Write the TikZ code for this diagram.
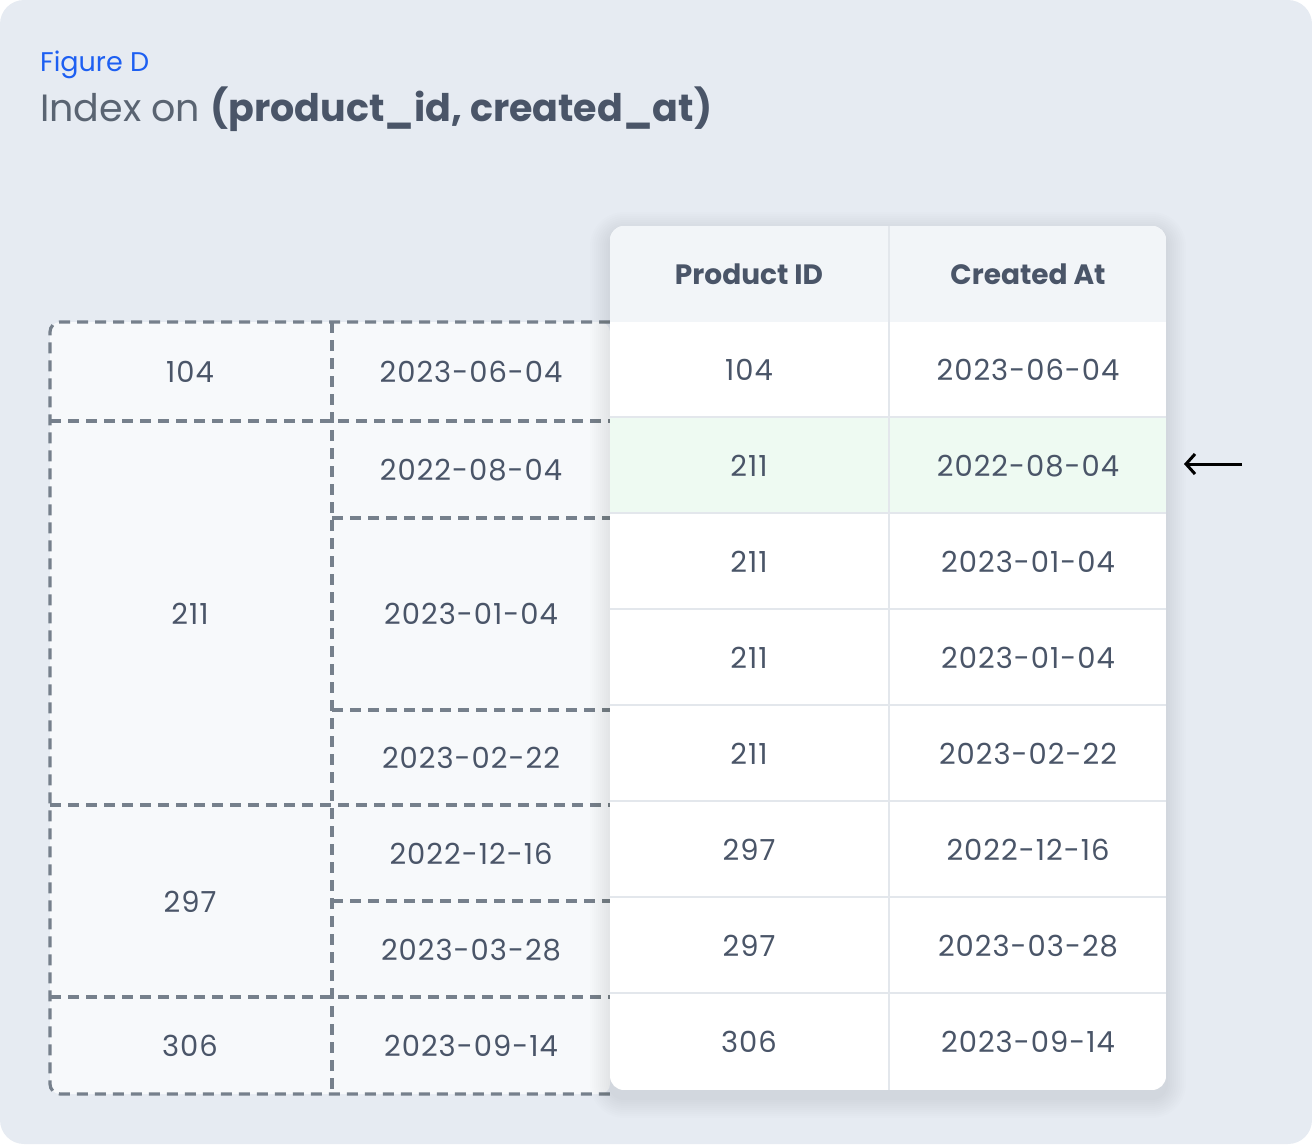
\documentclass[tikz,border=0pt]{standalone}
\usepackage{fontspec}
\setmainfont{Poppins}
\usetikzlibrary{arrows.meta}
\definecolor{pagebg}{HTML}{E6EBF2}
\definecolor{figblue}{HTML}{1D5FF2}
\definecolor{titlegray}{HTML}{5A6472}
\definecolor{cellfg}{HTML}{4A5568}
\definecolor{headbg}{HTML}{F2F5F8}
\definecolor{hitbg}{HTML}{EEFAF2}
\definecolor{rulegray}{HTML}{E3E7EC}
\definecolor{dashgray}{HTML}{76808C}
\definecolor{idxbg}{HTML}{F7F9FB}
\tikzset{
  cell/.style={text=cellfg, font=\fontsize{29}{34}\selectfont\addfontfeature{LetterSpace=3.5}},
  headcell/.style={text=cellfg, font=\fontsize{28}{34}\selectfont\bfseries},
  dashline/.style={draw=dashgray, line width=3.2pt, dash pattern=on 11pt off 7pt},
  tablerule/.style={draw=rulegray, line width=2.5pt}
}
\begin{document}
\begin{tikzpicture}[x=1pt,y=-1pt]
  \useasboundingbox (0,0) rectangle (1312,1144);
  \fill[pagebg, rounded corners=24pt] (0,0) rectangle (1312,1144);

  % title
  \node[anchor=base west, inner sep=0pt, text=figblue, font=\fontsize{27}{30}\selectfont]
    (fig) at (40,71) {Figure D};
  \node[anchor=base west, inner sep=0pt, text=titlegray, font=\fontsize{38}{46}\selectfont]
    (title) at (40,121) {Index on \textcolor{cellfg}{\bfseries (product\_id, created\_at)}};

  % index (dashed)
  \fill[idxbg, rounded corners=10pt] (610,322) -- (50,322) -- (50,1094) -- (610,1094) -- cycle;
  \draw[dashline, rounded corners=10pt] (610,322) -- (50,322) -- (50,1094) -- (610,1094);
  \draw[dashline] (332,322) -- (332,1094);
  \draw[dashline] (50,421) -- (610,421);
  \draw[dashline] (332,518) -- (610,518);
  \draw[dashline] (332,710) -- (610,710);
  \draw[dashline] (50,805) -- (610,805);
  \draw[dashline] (332,901) -- (610,901);
  \draw[dashline] (50,997) -- (610,997);

  \node[cell] (k104) at (190,372) {104};
  \node[cell] (k211) at (190,614) {211};
  \node[cell] (k297) at (190,902) {297};
  \node[cell] (k306) at (190,1046) {306};
  \node[cell] (d1) at (471,372) {2023-06-04};
  \node[cell] (d2) at (471,470) {2022-08-04};
  \node[cell] (d3) at (471,614) {2023-01-04};
  \node[cell] (d4) at (471,758) {2023-02-22};
  \node[cell] (d5) at (471,854) {2022-12-16};
  \node[cell] (d6) at (471,950) {2023-03-28};
  \node[cell] (d7) at (471,1046) {2023-09-14};

  % table
  \foreach \s in {2,4,...,20}
    \fill[black, opacity=0.009, rounded corners=14pt+\s pt]
      (610-\s,232-\s) rectangle (1166+\s,1098+\s);
  \begin{scope}
    \clip[rounded corners=14pt] (610,226) rectangle (1166,1090);
    \fill[white] (610,226) rectangle (1166,1090);
    \fill[headbg] (610,226) rectangle (1166,322);
    \fill[hitbg] (610,417) rectangle (1166,513);
    \foreach \y in {417,513,609,705,801,897,993}
      \draw[tablerule] (610,\y) -- (1166,\y);
    \draw[tablerule] (889,226) -- (889,1090);
  \end{scope}

  \node[headcell] (hid) at (749,274) {Product ID};
  \node[headcell] (hat) at (1028,274) {Created At};
  \foreach \id/\dt [count=\i] in {104/2023-06-04, 211/2022-08-04, 211/2023-01-04,
      211/2023-01-04, 211/2023-02-22, 297/2022-12-16, 297/2023-03-28, 306/2023-09-14} {
    \node[cell] (r\i id) at (749,274+96*\i) {\id};
    \node[cell] (r\i at) at (1028,274+96*\i) {\dt};
  }

  \coordinate (ptr) at (1242,464);
  \draw[line width=3pt, -{Straight Barb[length=9pt, width=20pt]}] (ptr) -- ++(-58,0);
\end{tikzpicture}
\end{document}
